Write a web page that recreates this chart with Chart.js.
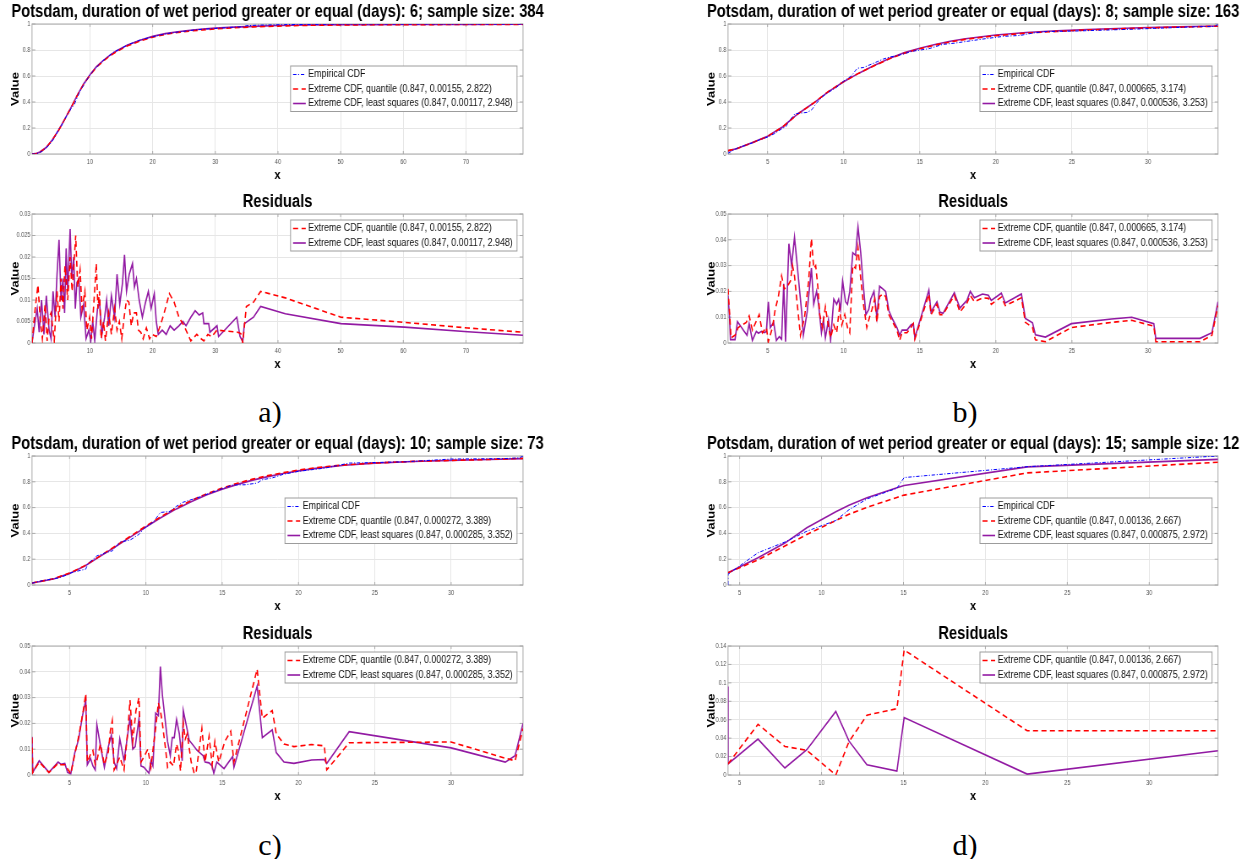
<!DOCTYPE html>
<html>
<head>
<meta charset="utf-8">
<script src="https://cdn.jsdelivr.net/npm/chart.js@4.4.1/dist/chart.umd.min.js"></script>
<style>
html, body { margin: 0; padding: 0; overflow: hidden; background: #fff; }
body { width: 1259px; height: 859px; position: relative; }
.box { position: absolute; transform-origin: 0 0; }
.box canvas { display: block; }
.tag { position: absolute; width: 80px; text-align: center; font-family: 'Liberation Serif', 'DejaVu Serif', serif; font-size: 30px; line-height: 30px; color: #000; }
</style>
</head>
<body>
<script>
// ---- data ----
const aXRange = [0.75, 79.1];
const bXRange = [2.4, 34.6];
const cXRange = [2.54, 34.71];
const dXRange = [4.29, 34.2];

const aXTicks = [10, 20, 30, 40, 50, 60, 70];
const bcdXTicks = [5, 10, 15, 20, 25, 30];
const cdfYTicks = [0, 0.2, 0.4, 0.6, 0.8, 1];
const aResYTicks = [0, 0.005, 0.01, 0.015, 0.02, 0.025, 0.03];
const bcResYTicks = [0, 0.01, 0.02, 0.03, 0.04, 0.05];
const dResYTicks = [0, 0.02, 0.04, 0.06, 0.08, 0.1, 0.12, 0.14];

const titleA = 'Potsdam, duration of wet period greater or equal (days): 6; sample size: 384';
const titleB = 'Potsdam, duration of wet period greater or equal (days): 8; sample size: 163';
const titleC = 'Potsdam, duration of wet period greater or equal (days): 10; sample size: 73';
const titleD = 'Potsdam, duration of wet period greater or equal (days): 15; sample size: 12';

const empLabel = 'Empirical CDF';
const qLabelA = 'Extreme CDF, quantile (0.847, 0.00155, 2.822)';
const lsLabelA = 'Extreme CDF, least squares (0.847, 0.00117, 2.948)';
const qLabelB = 'Extreme CDF, quantile (0.847, 0.000665, 3.174)';
const lsLabelB = 'Extreme CDF, least squares (0.847, 0.000536, 3.253)';
const qLabelC = 'Extreme CDF, quantile (0.847, 0.000272, 3.389)';
const lsLabelC = 'Extreme CDF, least squares (0.847, 0.000285, 3.352)';
const qLabelD = 'Extreme CDF, quantile (0.847, 0.00136, 2.667)';
const lsLabelD = 'Extreme CDF, least squares (0.847, 0.000875, 2.972)';

// a) CDF
const aEmpX = [0.75, 1.2, 1.6, 2, 2.5, 3, 3.5, 4, 4.5, 5, 5.5, 6, 6.5, 7, 7.5, 8, 8.5, 9, 10, 11, 12, 13, 14, 15, 16, 17, 18, 20, 22, 24, 27, 30, 33, 34.4, 35, 37, 41, 50, 60, 70, 79.1];
const aEmpCdf = [0, 0.0, 0.003, 0.012, 0.025, 0.045, 0.07, 0.1, 0.14, 0.19, 0.22, 0.27, 0.31, 0.35, 0.38, 0.44, 0.49, 0.53, 0.61, 0.665, 0.715, 0.755, 0.79, 0.812, 0.84, 0.858, 0.877, 0.902, 0.924, 0.938, 0.956, 0.966, 0.976, 0.978, 0.987, 0.9915, 0.995, 0.9995, 0.9997, 0.9998, 1.0];
const aFitX = [0.75, 1.5, 2, 3, 4, 5, 6, 7, 8, 9, 10, 11, 12, 13, 14, 15, 16, 18, 20, 22, 24, 26, 28, 30, 33, 36, 40, 45, 50, 55, 60, 70, 79.1];
const aQCdf = [0, 0.004, 0.013, 0.048, 0.108, 0.183, 0.268, 0.358, 0.452, 0.537, 0.606, 0.665, 0.71, 0.748, 0.78, 0.808, 0.832, 0.869, 0.899, 0.92, 0.935, 0.946, 0.955, 0.962, 0.971, 0.978, 0.984, 0.99, 0.993, 0.994, 0.995, 0.996, 0.9975];
const aLsCdf = [0, 0.005, 0.015, 0.05, 0.11, 0.185, 0.27, 0.36, 0.455, 0.54, 0.61, 0.67, 0.715, 0.753, 0.786, 0.814, 0.838, 0.875, 0.905, 0.926, 0.941, 0.952, 0.961, 0.968, 0.976, 0.982, 0.988, 0.992, 0.995, 0.9955, 0.996, 0.997, 0.998];

// a) residuals
const aResQX = [0.75, 0.94, 1.26, 1.70, 2.08, 2.40, 2.84, 3.16, 3.48, 3.79, 4.30, 4.74, 5.06, 5.38, 5.69, 6.01, 6.45, 6.83, 7.15, 7.47, 7.72, 8.04, 8.42, 8.73, 9.18, 9.49, 9.94, 10.25, 10.76, 11.01, 11.27, 11.52, 11.77, 12.15, 12.47, 12.98, 13.42, 13.93, 14.31, 14.69, 15.07, 15.45, 15.83, 16.21, 16.59, 16.97, 17.41, 17.73, 18.11, 18.49, 19.0, 19.5, 19.94, 20.58, 21.21, 21.84, 22.67, 23.43, 24.19, 25.01, 26.09, 27.04, 27.54, 28.18, 28.81, 29.44, 30.27, 33.56, 34.07, 34.38, 34.95, 36.09, 37.23, 41.16, 50.03, 60.16, 70.29, 79.1];
const aResQ = [0, 0.003, 0.008, 0.0135, 0.005, 0.001, 0.009, 0.0005, 0.006, 0.007, 0.0005, 0.012, 0.005, 0.015, 0.008, 0.018, 0.01, 0.02, 0.012, 0.019, 0.025, 0.013, 0.017, 0.008, 0.012, 0.003, 0.006, 0.001, 0.0125, 0.0185, 0.008, 0.012, 0.001, 0.005, 0.0005, 0.007, 0.002, 0.008, 0.003, 0.005, 0.001, 0.006, 0.01, 0.0095, 0.004, 0.007, 0.007, 0.003, 0.0025, 0.001, 0.0035, 0.001, 0.002, 0.0015, 0.004, 0.007, 0.0115, 0.0095, 0.006, 0.004, 0.0005, 0.002, 0.0012, 0.0005, 0.002, 0.0015, 0.003, 0.0025, 0.0022, 0, 0.0085, 0.0095, 0.012, 0.0105, 0.006, 0.0048, 0.0035, 0.0025];
const aResLX = [0.75, 1.13, 1.58, 1.89, 2.27, 2.65, 3.03, 3.48, 3.79, 4.11, 4.43, 4.74, 5.06, 5.38, 5.69, 5.95, 6.20, 6.45, 6.83, 7.09, 7.40, 7.66, 7.91, 8.23, 8.54, 8.99, 9.37, 9.81, 10.13, 10.44, 10.76, 11.2, 11.52, 11.9, 12.34, 12.66, 12.98, 13.42, 13.93, 14.31, 14.75, 15.19, 15.51, 15.83, 16.27, 16.78, 17.09, 17.41, 17.85, 18.36, 18.87, 19.31, 19.75, 20.26, 20.58, 20.89, 21.53, 22.16, 22.79, 23.43, 24.19, 24.82, 25.33, 26.09, 26.78, 27.42, 27.99, 28.18, 28.94, 29.13, 30.27, 30.52, 33.43, 33.94, 34.38, 34.64, 36.09, 37.23, 41.16, 50.03, 60.16, 70.29, 79.1];
const aResL = [0, 0.004, 0.008, 0.0025, 0.01, 0.002, 0.011, 0.003, 0.001, 0.012, 0.006, 0.016, 0.024, 0.01, 0.015, 0.007, 0.022, 0.012, 0.0265, 0.015, 0.02, 0.008, 0.014, 0.015, 0.006, 0.009, 0.001, 0.003, 0.0005, 0.005, 0.0005, 0.008, 0.0095, 0.002, 0.006, 0.01, 0.004, 0.011, 0.006, 0.016, 0.009, 0.014, 0.0205, 0.012, 0.016, 0.0185, 0.013, 0.015, 0.01, 0.006, 0.0095, 0.012, 0.008, 0.0115, 0.005, 0.002, 0.003, 0.002, 0.004, 0.003, 0.004, 0.005, 0.004, 0.006, 0.0075, 0.0065, 0.007, 0.0045, 0.0045, 0.0025, 0.004, 0.0015, 0.006, 0.0015, 0.0003, 0.0045, 0.006, 0.0085, 0.0068, 0.0045, 0.0037, 0.0026, 0.0018];

// b) CDF
const bEmpX = [2.4, 3, 3.5, 4, 4.5, 5, 5.5, 6, 6.2, 6.4, 6.8, 7.2, 7.6, 7.9, 8.2, 8.6, 9, 9.5, 10, 10.5, 10.9, 11.3, 11.8, 12.2, 12.6, 13, 13.7, 14.5, 15.6, 16.5, 17.3, 18.3, 19.5, 20.5, 21.6, 22.4, 23.3, 25, 29, 30.4, 33.4, 34.4, 34.6];
const bEmpCdf = [0.006, 0.045, 0.065, 0.085, 0.11, 0.13, 0.16, 0.2, 0.21, 0.25, 0.31, 0.315, 0.32, 0.34, 0.39, 0.44, 0.475, 0.51, 0.56, 0.6, 0.66, 0.665, 0.69, 0.71, 0.73, 0.745, 0.762, 0.79, 0.81, 0.843, 0.853, 0.87, 0.89, 0.905, 0.912, 0.93, 0.942, 0.945, 0.96, 0.966, 0.98, 0.981, 1.0];
const bFitX = [2.4, 3, 4, 5, 6, 7, 8, 9, 10, 11, 12, 13, 14, 15, 16, 17, 18, 20, 22, 24, 26, 28, 30, 32, 34.6];
const bQCdf = [0.026, 0.042, 0.087, 0.135, 0.209, 0.309, 0.39, 0.481, 0.557, 0.622, 0.678, 0.732, 0.776, 0.809, 0.838, 0.862, 0.882, 0.91, 0.93, 0.943, 0.954, 0.962, 0.97, 0.976, 0.983];
const bLsCdf = [0.024, 0.043, 0.088, 0.136, 0.21, 0.31, 0.39, 0.48, 0.556, 0.622, 0.68, 0.735, 0.78, 0.814, 0.843, 0.867, 0.887, 0.915, 0.935, 0.948, 0.958, 0.966, 0.973, 0.979, 0.985];

// b) residuals
const bResQX = [2.4, 2.5, 2.6, 2.86, 3.07, 3.6, 3.79, 4.0, 4.26, 4.45, 4.66, 4.92, 5.05, 5.32, 5.5, 5.71, 5.92, 6.1, 6.3, 6.5, 6.64, 6.77, 6.93, 7.16, 7.43, 7.7, 7.88, 8.03, 8.16, 8.3, 8.43, 8.61, 8.8, 8.93, 9.14, 9.35, 9.54, 9.72, 9.88, 10.07, 10.25, 10.4, 10.6, 10.78, 10.94, 11.12, 11.3, 11.52, 11.7, 11.86, 12.04, 12.18, 12.36, 12.57, 12.76, 12.97, 13.23, 13.5, 13.68, 13.84, 14.16, 14.42, 14.58, 14.68, 15.6, 15.74, 16.13, 16.32, 16.53, 17.27, 17.64, 18.1, 18.32, 18.59, 19.12, 19.51, 19.7, 20.36, 20.62, 21.68, 21.94, 22.41, 22.6, 23.26, 24.97, 27.6, 28.93, 30.38, 30.51, 33.42, 34.2, 34.6];
const bResQ = [0.021, 0.012, 0.002, 0.003, 0.006, 0.008, 0.0105, 0.005, 0.0085, 0.011, 0.004, 0.006, 0.0005, 0.006, 0.013, 0.018, 0.026, 0.021, 0.022, 0.024, 0.03, 0.026, 0.016, 0.003, 0.01, 0.024, 0.0405, 0.029, 0.03, 0.022, 0.011, 0.006, 0.014, 0.009, 0.002, 0.007, 0.004, 0.0135, 0.007, 0.011, 0.006, 0.004, 0.03, 0.029, 0.037, 0.025, 0.015, 0.006, 0.01, 0.013, 0.017, 0.008, 0.018, 0.019, 0.018, 0.011, 0.008, 0.005, 0.001, 0.004, 0.004, 0.006, 0.0075, 0.0015, 0.019, 0.011, 0.015, 0.011, 0.011, 0.0185, 0.012, 0.0155, 0.0185, 0.016, 0.0175, 0.0173, 0.015, 0.0178, 0.0145, 0.0175, 0.008, 0.006, 0.0012, 0.0005, 0.006, 0.008, 0.0088, 0.0065, 0.0005, 0.0005, 0.003, 0.0145];
const bResLX = [2.4, 2.5, 2.56, 2.86, 3.02, 3.47, 3.65, 3.79, 4.0, 4.26, 4.4, 4.6, 4.79, 4.92, 5.05, 5.18, 5.4, 5.58, 5.77, 5.92, 6.06, 6.18, 6.4, 6.58, 6.77, 6.98, 7.24, 7.35, 7.6, 7.88, 8.03, 8.22, 8.35, 8.54, 8.67, 8.8, 9.0, 9.14, 9.35, 9.54, 9.67, 9.8, 9.93, 10.12, 10.25, 10.4, 10.6, 10.78, 10.94, 11.12, 11.25, 11.46, 11.65, 11.78, 11.99, 12.18, 12.36, 12.57, 12.76, 12.97, 13.23, 13.5, 13.68, 13.84, 14.16, 14.42, 14.58, 14.68, 15.6, 15.74, 16.13, 16.32, 16.53, 17.27, 17.64, 18.1, 18.32, 18.59, 19.12, 19.51, 19.7, 20.36, 20.62, 21.68, 21.94, 22.41, 22.6, 23.26, 24.97, 27.6, 28.93, 30.38, 30.51, 33.42, 34.2, 34.6];
const bResL = [0.0185, 0.01, 0.0013, 0.0013, 0.0083, 0.0045, 0.003, 0.0075, 0.001, 0.0045, 0.0038, 0.0045, 0.004, 0.0045, 0.016, 0.006, 0.008, 0.001, 0.0025, 0.0015, 0.023, 0.0005, 0.0385, 0.03, 0.041, 0.028, 0.012, 0.003, 0.012, 0.029, 0.015, 0.02, 0.015, 0.004, 0.009, 0.002, 0.009, 0.001, 0.017, 0.015, 0.017, 0.013, 0.024, 0.016, 0.015, 0.02, 0.035, 0.034, 0.045, 0.035, 0.025, 0.011, 0.013, 0.017, 0.02, 0.01, 0.022, 0.021, 0.02, 0.0125, 0.009, 0.006, 0.003, 0.005, 0.005, 0.007, 0.0075, 0.002, 0.0205, 0.012, 0.016, 0.012, 0.0115, 0.0195, 0.0135, 0.0165, 0.02, 0.0175, 0.019, 0.0185, 0.0165, 0.0193, 0.0155, 0.019, 0.0095, 0.0078, 0.0032, 0.0023, 0.0075, 0.0093, 0.01, 0.0075, 0.0018, 0.0018, 0.004, 0.016];

// c) CDF
const cEmpX = [2.54, 3, 3.6, 4.2, 4.9, 5.1, 5.6, 6.06, 6.2, 6.8, 7.3, 7.8, 8.3, 8.96, 9.55, 9.9, 10.5, 10.95, 11.6, 12.0, 12.45, 13.4, 14.1, 14.6, 15.7, 16.5, 17.29, 17.6, 18.3, 19.0, 20.0, 21.7, 21.85, 23.32, 27, 30, 33.5, 34.5, 34.71];
const cEmpCdf = [0.014, 0.028, 0.041, 0.053, 0.08, 0.095, 0.11, 0.123, 0.164, 0.226, 0.247, 0.265, 0.333, 0.348, 0.393, 0.44, 0.49, 0.562, 0.571, 0.61, 0.642, 0.677, 0.708, 0.73, 0.776, 0.777, 0.79, 0.815, 0.831, 0.858, 0.881, 0.906, 0.909, 0.945, 0.955, 0.9765, 0.98, 0.986, 1.0];
const cFitX = [2.54, 3, 4, 5, 6, 7, 8, 9, 10, 11, 12, 13, 14, 15, 16, 17, 18, 19, 20, 21, 22, 23, 25, 27.5, 30, 32.5, 34.71];
const cQCdf = [0.016, 0.026, 0.05, 0.092, 0.15, 0.225, 0.301, 0.379, 0.457, 0.531, 0.598, 0.657, 0.708, 0.751, 0.789, 0.821, 0.848, 0.871, 0.891, 0.907, 0.92, 0.931, 0.946, 0.958, 0.966, 0.973, 0.982];
const cLsCdf = [0.015, 0.025, 0.048, 0.09, 0.148, 0.222, 0.296, 0.373, 0.45, 0.523, 0.59, 0.648, 0.699, 0.742, 0.78, 0.813, 0.84, 0.865, 0.885, 0.902, 0.916, 0.928, 0.945, 0.957, 0.966, 0.973, 0.98];

// c) residuals
const cResQX = [2.54, 2.59, 3.01, 3.65, 4.25, 4.43, 4.69, 5.08, 5.34, 5.6, 5.9, 6.06, 6.16, 6.37, 6.53, 6.68, 6.79, 7.02, 7.28, 7.54, 7.67, 7.8, 7.92, 8.08, 8.29, 8.57, 8.83, 8.96, 9.14, 9.35, 9.55, 9.68, 9.87, 10.13, 10.33, 10.51, 10.64, 10.82, 10.95, 11.08, 11.29, 11.42, 11.6, 11.81, 12.01, 12.12, 12.27, 12.45, 12.58, 12.71, 12.97, 13.15, 13.28, 13.49, 13.67, 13.88, 14.14, 14.34, 14.52, 14.78, 15.17, 15.56, 15.77, 17.29, 17.63, 18.28, 18.54, 19.05, 19.7, 20.86, 21.69, 21.85, 23.32, 30.0, 33.55, 34.19, 34.71];
const cResQ = [0.0145, 0.001, 0.005, 0.001, 0.0045, 0.004, 0.004, 0.0005, 0.008, 0.015, 0.025, 0.0315, 0.005, 0.008, 0.0095, 0.004, 0.0055, 0.012, 0.004, 0.009, 0.017, 0.021, 0.002, 0.004, 0.007, 0.002, 0.018, 0.029, 0.013, 0.025, 0.03, 0.005, 0.007, 0.01, 0.003, 0.012, 0.018, 0.028, 0.025, 0.02, 0.01, 0.003, 0.005, 0.0035, 0.012, 0.0095, 0.0015, 0.02, 0.014, 0.016, 0.005, 0.001, 0.0005, 0.01, 0.018, 0.005, 0.015, 0.004, 0.013, 0.005, 0.013, 0.017, 0.005, 0.041, 0.022, 0.025, 0.016, 0.012, 0.011, 0.0118, 0.0113, 0.002, 0.0125, 0.0128, 0.0065, 0.0055, 0.018];
const cResLX = [2.54, 2.59, 3.01, 3.65, 4.25, 4.43, 4.69, 4.87, 5.08, 5.34, 5.6, 5.85, 6.06, 6.16, 6.37, 6.53, 6.68, 6.79, 7.02, 7.28, 7.54, 7.74, 7.92, 8.08, 8.29, 8.57, 8.96, 9.14, 9.3, 9.55, 9.68, 9.87, 10.2, 10.33, 10.46, 10.64, 10.82, 10.95, 11.08, 11.42, 11.6, 11.73, 11.86, 12.01, 12.19, 12.38, 12.45, 12.71, 12.84, 13.36, 13.75, 13.88, 14.14, 14.34, 14.45, 14.65, 15.12, 15.69, 15.77, 17.29, 17.63, 18.28, 18.54, 19.05, 19.7, 20.86, 21.69, 21.85, 23.32, 30.0, 33.55, 34.19, 34.71];
const cResL = [0.0148, 0.001, 0.0055, 0.001, 0.005, 0.0042, 0.0045, 0.001, 0.0005, 0.0085, 0.014, 0.023, 0.029, 0.004, 0.0065, 0.0035, 0.002, 0.0195, 0.0115, 0.003, 0.011, 0.0155, 0.005, 0.0025, 0.014, 0.0055, 0.022, 0.01, 0.011, 0.022, 0.0035, 0.003, 0.0007, 0.0055, 0.0035, 0.024, 0.023, 0.042, 0.031, 0.013, 0.0075, 0.0145, 0.0145, 0.0215, 0.016, 0.0055, 0.025, 0.0175, 0.0135, 0.0095, 0.0075, 0.005, 0.0047, 0.0035, 0.0007, 0.005, 0.0025, 0.0072, 0.003, 0.0345, 0.0145, 0.0175, 0.0087, 0.005, 0.0045, 0.0058, 0.006, 0.0045, 0.0168, 0.0105, 0.005, 0.0075, 0.02];

// d) CDF
const dEmpX = [4.29, 4.29, 6.12, 7.76, 9.1, 10.87, 11.67, 12.77, 14.6, 15.04, 22.55, 34.2];
const dEmpCdf = [0, 0.083, 0.25, 0.333, 0.417, 0.5, 0.583, 0.667, 0.75, 0.833, 0.917, 1.0];
const dFitX = [4.29, 6.12, 7.76, 9.1, 10.87, 11.67, 12.77, 14.6, 15.04, 22.55, 34.2];
const dQCdf = [0.095, 0.195, 0.302, 0.391, 0.5, 0.548, 0.602, 0.679, 0.697, 0.869, 0.952];
const dLsCdf = [0.095, 0.211, 0.325, 0.444, 0.568, 0.618, 0.677, 0.754, 0.771, 0.916, 0.974];

// d) residuals
const dResQX = [4.29, 6.12, 7.76, 9.1, 10.87, 11.67, 12.77, 14.6, 15.04, 22.55, 34.2];
const dResQ = [0.012, 0.055, 0.031, 0.0267, 0, 0.036, 0.065, 0.072, 0.1357, 0.048, 0.048];
const dResLX = [4.29, 4.29, 6.12, 7.76, 9.1, 10.87, 11.67, 12.77, 14.6, 15.04, 22.55, 34.2];
const dResL = [0.096, 0.012, 0.039, 0.0076, 0.0274, 0.069, 0.037, 0.011, 0.0043, 0.0624, 0.001, 0.0263];

// ---- layout ----
const SX = 0.845;     // whole figure is squeezed horizontally
const Y_AXIS = 32;    // screen px to the left of each plot box
const TOP_GAP = 24;   // title band
const X_AXIS = 29;    // tick labels + "x"

const COL_EMP = '#0000ff', COL_Q = '#ff0000', COL_LS = '#921aa3';

Chart.defaults.font.family = '"Liberation Sans", Arial, sans-serif';

const axesBox = {
    id: 'axesBox',
    beforeDatasetsDraw(chart) {
        const { ctx, chartArea: a, scales } = chart;
        ctx.save();
        ctx.strokeStyle = '#a9a9a9';
        ctx.lineWidth = 1;
        ctx.strokeRect(a.left, a.top, a.right - a.left, a.bottom - a.top);
        ctx.beginPath();
        scales.x.ticks.forEach(t => {
            const px = scales.x.getPixelForValue(t.value);
            ctx.moveTo(px, a.bottom); ctx.lineTo(px, a.bottom - 3);
            ctx.moveTo(px, a.top);    ctx.lineTo(px, a.top + 3);
        });
        scales.y.ticks.forEach(t => {
            const py = scales.y.getPixelForValue(t.value);
            ctx.moveTo(a.left, py);  ctx.lineTo(a.left + 4, py);
            ctx.moveTo(a.right, py); ctx.lineTo(a.right - 4, py);
        });
        ctx.stroke();
        ctx.restore();
    }
};

const boxLegend = {
    id: 'boxLegend',
    afterDraw(chart, args, options) {
        const { ctx, chartArea } = chart;
        const rows = chart.data.datasets;
        ctx.save();
        ctx.font = '10.5px "Liberation Sans", Arial, sans-serif';
        const textW = Math.max(...rows.map(r => ctx.measureText(r.label).width));
        const w = 3 + 15 + 3 + textW + 5;
        const h = rows.length * 14.5 + 2;
        const x = chartArea.right - 6 / SX - w;
        const y = chartArea.top + options.top;
        ctx.fillStyle = '#fff';
        ctx.fillRect(x, y, w, h);
        ctx.strokeStyle = '#9c9c9c';
        ctx.lineWidth = 1;
        ctx.strokeRect(x, y, w, h);
        rows.forEach((r, i) => {
            const cy = y + 8.5 + 14.5 * i;
            ctx.beginPath();
            ctx.setLineDash(r.borderDash);
            ctx.strokeStyle = r.borderColor;
            ctx.lineWidth = r.borderWidth;
            ctx.moveTo(x + 3, cy);
            ctx.lineTo(x + 18, cy);
            ctx.stroke();
            ctx.setLineDash([]);
            ctx.fillStyle = '#111';
            ctx.textBaseline = 'middle';
            ctx.fillText(r.label, x + 21, cy);
        });
        ctx.restore();
    }
};

Chart.register(axesBox, boxLegend);

function pts(xs, ys) {
    return xs.map((x, i) => ({ x, y: ys[i] }));
}

function line(kind, label, data) {
    const style = {
        emp: { borderColor: COL_EMP, borderWidth: 1, borderDash: [4, 2, 1.2, 2], order: 0 },
        q:   { borderColor: COL_Q, borderWidth: 1.6, borderDash: [6, 4], order: 1 },
        ls:  { borderColor: COL_LS, borderWidth: 1.6, borderDash: [], order: 2 }
    }[kind];
    return { label, data, ...style, pointRadius: 0, tension: 0, fill: false };
}

function makePlot(p) {
    const yW = Y_AXIS / SX;
    const plotW = (p.right - p.left) / SX;
    const w = Math.round(plotW + 2 * yW);
    const h = p.bottom - p.top + TOP_GAP + X_AXIS;
    const box = document.createElement('div');
    box.className = 'box';
    Object.assign(box.style, {
        left: (p.left - Y_AXIS) + 'px',
        top: (p.top - TOP_GAP) + 'px',
        width: w + 'px',
        height: h + 'px',
        transform: `scaleX(${SX})`
    });
    const cv = document.createElement('canvas');
    box.appendChild(cv);
    document.body.appendChild(box);

    const tickFont = { size: 6.5 };
    new Chart(cv, {
        type: 'line',
        data: { datasets: p.sets },
        options: {
            responsive: true,
            maintainAspectRatio: false,
            animation: false,
            events: [],
            layout: { padding: { left: 0, top: 2, bottom: 0, right: 0 } },
            plugins: {
                legend: { display: false },
                tooltip: { enabled: false },
                title: {
                    display: true, text: p.title, color: '#000',
                    font: { size: 17.5, weight: 'bold', lineHeight: 1.166 },
                    padding: { top: 0, bottom: 1.6 }
                },
                boxLegend: { top: p.legendTop }
            },
            scales: {
                x: {
                    type: 'linear', min: p.xr[0], max: p.xr[1],
                    afterBuildTicks: axis => { axis.ticks = p.xt.map(v => ({ value: v })); },
                    afterFit: axis => { axis.height = X_AXIS; },
                    grid: { color: '#e6e6e6', drawTicks: false },
                    border: { display: false },
                    ticks: { font: tickFont, color: '#505050', padding: 4, autoSkip: false, maxRotation: 0, callback: v => String(v) },
                    title: { display: true, text: 'x', color: '#000', font: { size: 13, weight: 'bold' }, padding: { top: 0, bottom: 0 } }
                },
                y: {
                    type: 'linear', min: p.yr[0], max: p.yr[1],
                    afterBuildTicks: axis => { axis.ticks = p.yt.map(v => ({ value: v })); },
                    afterFit: axis => { axis.width = yW; },
                    grid: { color: '#e6e6e6', drawTicks: false },
                    border: { display: false },
                    ticks: { font: tickFont, color: '#505050', padding: 2, autoSkip: false, callback: v => String(v) },
                    title: { display: true, text: 'Value', color: '#000', font: { size: 13, weight: 'bold' }, padding: { top: 10.5, bottom: 0 } }
                },
                // empty strip on the right, so the title centres over the plot box
                yPad: {
                    type: 'linear', position: 'right', min: 0, max: 1,
                    afterFit: axis => { axis.width = w - yW - plotW; },
                    grid: { display: false },
                    border: { display: false },
                    ticks: { display: false }
                }
            }
        }
    });
}

const plots = [
    { left: 32, right: 523, top: 24, bottom: 154, title: titleA, xr: aXRange, xt: aXTicks, yr: [0, 1], yt: cdfYTicks, legendTop: 42,
      sets: [line('emp', empLabel, pts(aEmpX, aEmpCdf)), line('q', qLabelA, pts(aFitX, aQCdf)), line('ls', lsLabelA, pts(aFitX, aLsCdf))] },
    { left: 32, right: 523, top: 214, bottom: 343, title: 'Residuals', xr: aXRange, xt: aXTicks, yr: [0, 0.03], yt: aResYTicks, legendTop: 6,
      sets: [line('q', qLabelA, pts(aResQX, aResQ)), line('ls', lsLabelA, pts(aResLX, aResL))] },
    { left: 728, right: 1218, top: 24, bottom: 154, title: titleB, xr: bXRange, xt: bcdXTicks, yr: [0, 1], yt: cdfYTicks, legendTop: 42,
      sets: [line('emp', empLabel, pts(bEmpX, bEmpCdf)), line('q', qLabelB, pts(bFitX, bQCdf)), line('ls', lsLabelB, pts(bFitX, bLsCdf))] },
    { left: 728, right: 1218, top: 214, bottom: 343, title: 'Residuals', xr: bXRange, xt: bcdXTicks, yr: [0, 0.05], yt: bcResYTicks, legendTop: 6,
      sets: [line('q', qLabelB, pts(bResQX, bResQ)), line('ls', lsLabelB, pts(bResLX, bResL))] },
    { left: 32, right: 523, top: 456, bottom: 585, title: titleC, xr: cXRange, xt: bcdXTicks, yr: [0, 1], yt: cdfYTicks, legendTop: 42,
      sets: [line('emp', empLabel, pts(cEmpX, cEmpCdf)), line('q', qLabelC, pts(cFitX, cQCdf)), line('ls', lsLabelC, pts(cFitX, cLsCdf))] },
    { left: 32, right: 523, top: 646, bottom: 775, title: 'Residuals', xr: cXRange, xt: bcdXTicks, yr: [0, 0.05], yt: bcResYTicks, legendTop: 6,
      sets: [line('q', qLabelC, pts(cResQX, cResQ)), line('ls', lsLabelC, pts(cResLX, cResL))] },
    { left: 728, right: 1218, top: 456, bottom: 585, title: titleD, xr: dXRange, xt: bcdXTicks, yr: [0, 1], yt: cdfYTicks, legendTop: 42,
      sets: [line('emp', empLabel, pts(dEmpX, dEmpCdf)), line('q', qLabelD, pts(dFitX, dQCdf)), line('ls', lsLabelD, pts(dFitX, dLsCdf))] },
    { left: 728, right: 1218, top: 646, bottom: 775, title: 'Residuals', xr: dXRange, xt: bcdXTicks, yr: [0, 0.14], yt: dResYTicks, legendTop: 6,
      sets: [line('q', qLabelD, pts(dResQX, dResQ)), line('ls', lsLabelD, pts(dResLX, dResL))] }
];

plots.forEach(makePlot);

// panel letters under each pair
[['a)', 270, 412], ['b)', 965, 412], ['c)', 270, 845], ['d)', 965, 845]].forEach(([t, cx, cy]) => {
    const el = document.createElement('div');
    el.className = 'tag';
    el.textContent = t;
    el.style.left = (cx - 40) + 'px';
    el.style.top = (cy - 15) + 'px';
    document.body.appendChild(el);
});
</script>
</body>
</html>
